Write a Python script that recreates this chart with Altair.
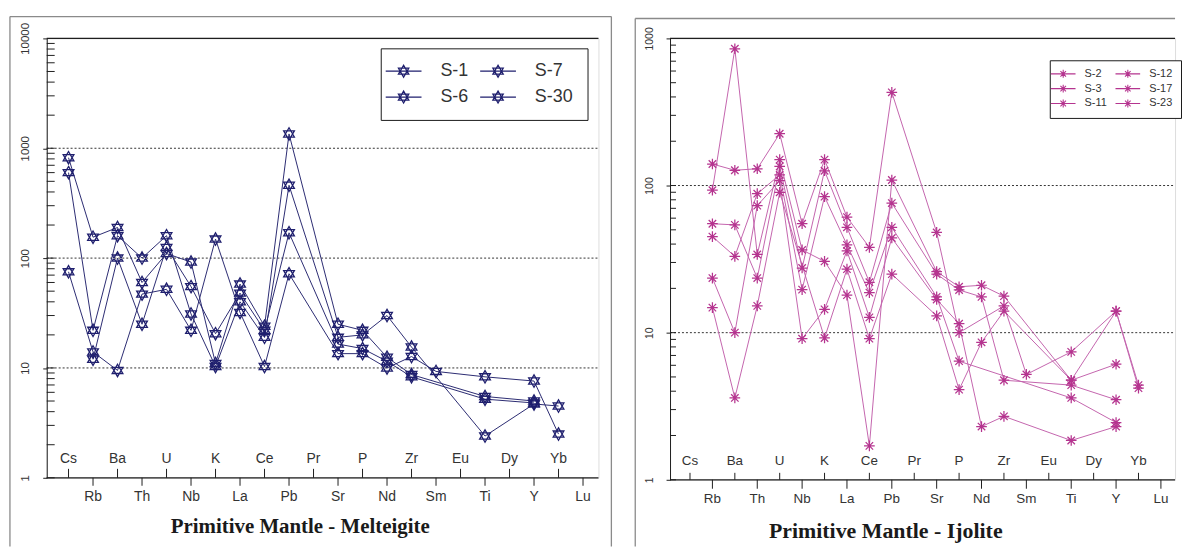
import math
import altair as alt
import pandas as pd

ELEMENTS = ["Cs", "Rb", "Ba", "Th", "U", "Nb", "K", "La", "Ce", "Pb", "Pr",
            "Sr", "P", "Nd", "Zr", "Sm", "Eu", "Ti", "Dy", "Y", "Yb", "Lu"]

# ---- Primitive mantle normalised values, Melteigite ----
MEL_NAMES = ["S-1", "S-6", "S-7", "S-30"]
MEL_S1 = [820, 155, 190, 60, 110, 92, 11, 58, 24, 1350, None, 25, 22, 12.5, 8.7, None, None, 5.5, None, 5.0, None, None]
MEL_S6 = [600, 22, 160, 100, 160, 31, 10.3, 40, 19, 460, None, 19, 20, 30, 15.5, None, None, 2.4, None, 4.7, 4.5, None]
MEL_S7 = [None, 12, 100, 25, 125, 55, 20.5, 48, 22, 170, None, 16.5, 15, 11.5, 8.3, None, None, 5.2, None, 4.8, None, None]
MEL_S30 = [75, 14, 9.5, 47, 52, 22, 149, 32, 10.3, 72, None, 13.5, 13.5, 10, 12.7, 9.3, None, 8.3, None, 7.6, 2.5, None]

# ---- Primitive mantle normalised values, Ijolite ----
IJO_NAMES = ["S-2", "S-3", "S-11", "S-12", "S-17", "S-23"]
IJO_S2 = [None, 140, 127, 130, 225, 55, 150, 61, 38, 430, None, 48, 10, None, 15.2, 5.2, None, 7.4, None, 14, 4.4, None]
IJO_S3 = [None, 93, 850, 34, 150, 36.5, 30.5, 18, 1.7, 109, None, 26, 20.5, 21, 17.7, None, None, 4.75, None, 14, 4.2, None]
IJO_S11 = [None, 55, 54, 23.5, 135, 27.5, 126, 52, 22, 76, None, 25, 19.5, 17.5, 4.75, None, None, 4.4, None, 3.5, None, None]
IJO_S12 = [None, 45, 33, 88, 118, 19.6, 84, 39.5, 18.7, 52, None, 17.5, 6.4, None, None, None, None, 3.6, None, 2.45, None, None]
IJO_S17 = [None, 23.5, 10, 73, 108, 9.1, 14.4, 36, 12.7, 44, None, 16.8, 11.5, 2.3, 2.7, None, None, 1.85, None, 2.3, None, None]
IJO_S23 = [None, 14.8, 3.6, 15.2, 90, None, 9.2, 27, 9.1, 25, None, 13, 4.1, 8.6, 14, None, None, 4.75, None, 6.1, None, None]

HEXAGRAM = "M0,-1L0.866,0.5L-0.866,0.5ZM0,1L0.866,-0.5L-0.866,-0.5Z"
HEX_LEGEND = "M-3,0L3,0" + HEXAGRAM
ASTER = "M-1,0L1,0M0,-1L0,1M-0.7,-0.7L0.7,0.7M-0.7,0.7L0.7,-0.7"
AST_LEGEND = "M-3.1,0L3.1,0M0,-1L0,1M-0.7,-0.7L0.7,0.7M-0.7,0.7L0.7,-0.7"


def long_df(names, series):
    rows = []
    for name, vals in zip(names, series):
        for i, v in enumerate(vals):
            if v is not None:
                rows.append({"sample": name, "elem": ELEMENTS[i], "idx": i, "value": v})
    return pd.DataFrame(rows)


def panel(df, legend_order, ymax, W, H, line_color, mark_color, shape, size, mark_sw,
          legend, fs_x, fs_y, lab_pad, tick_up, tick_down, minor_len,
          title, title_fs, title_x, title_y, frame_rules):
    xs = alt.Scale(domain=[-0.89, 21.63], nice=False, zero=False)
    ys = alt.Scale(type="log", domain=[1, ymax], nice=False)
    kmax = int(round(math.log10(ymax)))
    majors = [10 ** k for k in range(kmax + 1)]
    minors = [m * 10 ** k for k in range(kmax) for m in range(2, 10)]
    tick_df = pd.DataFrame({"v": majors[:-1] + minors})
    grid_df = pd.DataFrame({"v": majors[1:-1]})
    top_df = pd.DataFrame({"v": [ymax]})
    base_df = pd.DataFrame({"v": [1]})
    lab_df = pd.DataFrame({"idx": list(range(len(ELEMENTS))), "elem": ELEMENTS})
    even = lab_df[lab_df.idx % 2 == 0]
    odd = lab_df[lab_df.idx % 2 == 1]

    axis_col = "#1e1e1e"
    yaxis = alt.Axis(values=majors, format="d", labelAngle=270, labelAlign="center",
                     labelBaseline="bottom", labelPadding=lab_pad, tickSize=4,
                     tickColor=axis_col, domainColor=axis_col, labelFont="Liberation Sans",
                     labelFontSize=fs_y, labelColor="#333", grid=False, title=None)

    def X(f):
        return alt.X(f, type="quantitative", scale=xs, axis=None)

    def Y(f):
        return alt.Y(f, type="quantitative", scale=ys, axis=yaxis)

    layers = []
    fr = pd.DataFrame({"k": [0]})
    for (x1, x2, y1, y2) in frame_rules:
        enc = dict(x=alt.value(x1), y=alt.value(y1))
        if x2 is not None:
            enc["x2"] = alt.value(x2)
        if y2 is not None:
            enc["y2"] = alt.value(y2)
        layers.append(alt.Chart(fr).mark_rule(color="#8a8a8a", strokeWidth=1.3).encode(**enc))

    layers.append(alt.Chart(grid_df).mark_rule(color="#333", strokeDash=[2, 2], strokeWidth=1).encode(
        y=Y("v"), x=alt.value(0), x2=alt.value(W)))
    layers.append(alt.Chart(tick_df).mark_rule(color=axis_col, strokeWidth=1).encode(
        y=Y("v"), x=alt.value(0), x2=alt.value(minor_len)))
    layers.append(alt.Chart(top_df).mark_rule(color=axis_col, strokeWidth=1.2).encode(
        y=Y("v"), x=alt.value(0), x2=alt.value(W)))
    layers.append(alt.Chart(base_df).mark_rule(color=axis_col, strokeWidth=1.2).encode(
        y=Y("v"), x=alt.value(0), x2=alt.value(W)))
    layers.append(alt.Chart(even).mark_rule(color=axis_col, strokeWidth=1).encode(
        x=X("idx"), y=alt.value(H), y2=alt.value(H - tick_up)))
    layers.append(alt.Chart(odd).mark_rule(color=axis_col, strokeWidth=1).encode(
        x=X("idx"), y=alt.value(H), y2=alt.value(H + tick_down)))
    layers.append(alt.Chart(even).mark_text(font="Liberation Sans", fontSize=fs_x, color="#333",
                                            baseline="middle", align="center").encode(
        x=X("idx"), y=alt.value(H - 19), text="elem:N"))
    layers.append(alt.Chart(odd).mark_text(font="Liberation Sans", fontSize=fs_x, color="#333",
                                           baseline="middle", align="center").encode(
        x=X("idx"), y=alt.value(H + 19), text="elem:N"))
    layers.append(alt.Chart(df).mark_line(color=line_color, strokeWidth=1).encode(
        x=X("idx"), y=Y("value"), detail="sample:N", order="idx:Q"))
    layers.append(alt.Chart(df).mark_point(shape=shape, size=size, filled=False, strokeWidth=mark_sw,
                                           opacity=1).encode(
        x=X("idx"), y=Y("value"),
        color=alt.Color("sample:N",
                        scale=alt.Scale(domain=legend_order, range=[mark_color] * len(legend_order)),
                        legend=legend)))
    layers.append(alt.Chart(pd.DataFrame({"t": [title]})).mark_text(
        font="Liberation Serif", fontWeight="bold", fontSize=title_fs, color="#1a1a1a",
        align="center", baseline="alphabetic").encode(
        x=alt.value(title_x), y=alt.value(title_y), text="t:N"))
    return alt.layer(*layers).properties(width=W, height=H)


mel_df = long_df(MEL_NAMES, [MEL_S1, MEL_S6, MEL_S7, MEL_S30])
ijo_df = long_df(IJO_NAMES, [IJO_S2, IJO_S3, IJO_S11, IJO_S12, IJO_S17, IJO_S23])

NAVY = "#1f1f6e"
mel_legend = alt.Legend(title=None, orient="none", legendX=336, legendY=10, columns=2,
                        symbolType=HEX_LEGEND, symbolSize=144, symbolStrokeWidth=1.3,
                        labelFont="Liberation Sans", labelFontSize=18, labelColor="#333",
                        labelOffset=28, padding=14, rowPadding=8, columnPadding=8,
                        strokeColor="#1a1a1a", fillColor="white")
left = panel(mel_df, MEL_NAMES, 10000, 555, 442, "#2b2b72", NAVY, HEXAGRAM, 155, 1.3,
             mel_legend, 14, 11.5, 12, 9, 8, 8,
             "Primitive Mantle - Melteigite", 21, 255, 498,
             [(-37, 568, -22, None), (-37, None, -22, 511), (568, None, -22, 511)])

ijo_legend = alt.Legend(title=None, orient="none", legendX=382, legendY=22, columns=2,
                        symbolType=AST_LEGEND, symbolSize=64, symbolStrokeWidth=1.1,
                        labelFont="Liberation Sans", labelFontSize=11, labelColor="#333",
                        labelOffset=16, padding=8, rowPadding=2, columnPadding=5,
                        strokeColor="#1a1a1a", fillColor="white")
right = panel(ijo_df, IJO_NAMES, 1000, 508, 444, "#c465ad", "#b5348f", ASTER, 115, 1.25,
              ijo_legend, 13.5, 10.5, 12, 7, 9, 6,
              "Primitive Mantle - Ijolite", 22, 217, 503,
              [(-35, 508, -20, None), (-35, None, -20, 511)])

chart = alt.hconcat(left, right, spacing=72).properties(
    bounds="flush", padding={"left": 8, "top": 13, "right": 0, "bottom": 0}
).resolve_scale(x="independent", y="independent", color="independent").configure_view(
    stroke=None).configure_legend(strokeWidth=1.8).configure(background="white")

chart.save("out.html", embed_options={"renderer": "svg", "actions": False})
